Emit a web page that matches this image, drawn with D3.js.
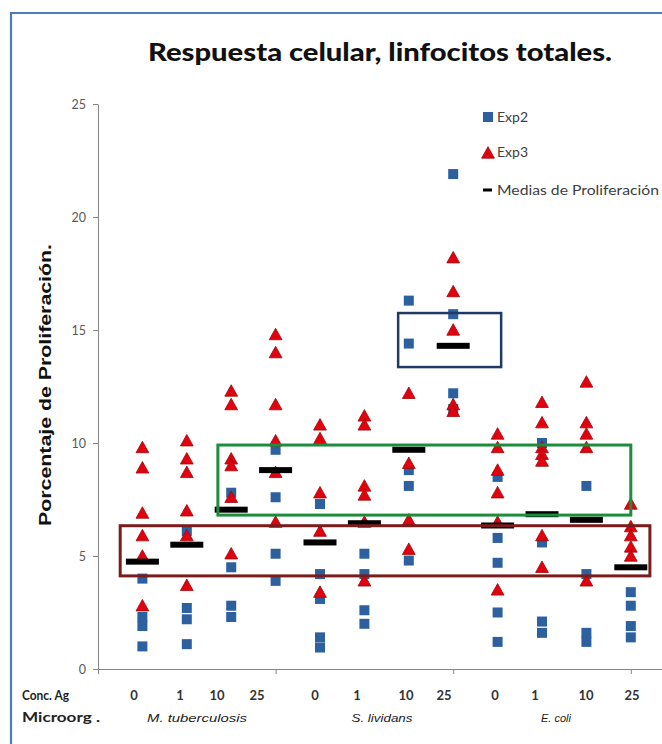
<!DOCTYPE html>
<html>
<head>
<meta charset="utf-8">
<script src="https://cdn.jsdelivr.net/npm/d3@7/dist/d3.min.js"></script>
<style>
  html, body { margin: 0; padding: 0; background: #fff; }
  svg { display: block; }
</style>
</head>
<body>
<svg id="chart" width="662" height="744"></svg>
<script>
// Concentration of antigen for each column, and the microorganism groups
const concLabels = ["0", "1", "10", "25", "0", "1", "10", "25", "0", "1", "10", "25"];
const organisms = ["M. tuberculosis", "S. lividans", "E. coli"];

// Exp2 values (squares), one list per column
const exp2 = [
  [4.0, 2.3, 1.9, 1.0],
  [6.1, 2.7, 2.2, 1.1],
  [7.8, 4.5, 2.8, 2.3],
  [9.7, 7.6, 5.1, 3.9],
  [7.3, 4.2, 3.1, 1.4, 0.95],
  [5.1, 4.2, 2.6, 2.0],
  [16.3, 14.4, 8.8, 8.1, 4.8],
  [21.9, 15.7, 12.2, 11.5],
  [8.5, 5.8, 4.7, 2.5, 1.2],
  [10.0, 5.6, 2.1, 1.6],
  [8.1, 4.2, 1.6, 1.2],
  [3.4, 2.8, 1.9, 1.4]
];

// Exp3 values (triangles)
const exp3 = [
  [9.8, 8.9, 6.9, 5.9, 5.0, 2.8],
  [10.1, 9.3, 8.7, 7.0, 5.9, 3.7],
  [12.3, 11.7, 9.3, 9.0, 7.6, 5.1],
  [14.8, 14.0, 11.7, 10.1, 8.7, 6.5],
  [10.8, 10.2, 7.8, 6.1, 3.4],
  [11.2, 10.8, 8.1, 7.7, 6.5, 3.9],
  [12.2, 9.1, 6.6, 5.3],
  [18.2, 16.7, 15.0, 11.7, 11.4],
  [10.4, 9.8, 8.8, 7.8, 6.5, 3.5],
  [11.8, 10.9, 9.8, 9.5, 9.2, 5.9, 4.5],
  [12.7, 10.9, 10.4, 9.8, 3.9],
  [7.3, 6.3, 5.9, 5.4, 5.0]
];

// Proliferation means per column
const means = [4.75, 5.5, 7.05, 8.8, 5.6, 6.45, 9.7, 14.3, 6.35, 6.85, 6.6, 4.5];

// Highlight boxes in data units: [x0, x1, yTop, yBottom]
const boxRed = [0.5, 12.43, 6.34, 4.12];
const boxGreen = [2.7, 12.0, 9.91, 6.81];
const boxBlue = [6.76, 9.08, 15.75, 13.36];

const yTicks = [0, 5, 10, 15, 20, 25];
const xTicks = [0, 4, 8, 12];

const svg = d3.select("#chart");
svg.append("rect").attr("width", 662).attr("height", 744).attr("fill", "#fff");

// chart frame (left and top edges visible)
svg.append("path")
  .attr("d", "M11,744 L11,13 L662,13")
  .attr("fill", "none").attr("stroke", "#4a7ebb").attr("stroke-width", 2.2);

const x = d3.scaleLinear().domain([0, 13]).range([98, 98 + 13 * 44.4]);
const y = d3.scaleLinear().domain([0, 25]).range([669, 104]);

// title
svg.append("text")
  .attr("x", 380).attr("y", 61)
  .attr("text-anchor", "middle")
  .attr("font-family", "Lato, 'Open Sans', sans-serif")
  .attr("font-weight", "900").attr("font-size", 25)
  .attr("textLength", 464).attr("lengthAdjust", "spacingAndGlyphs")
  .attr("fill", "#111")
  .text("Respuesta celular, linfocitos totales.");

// y axis
const yAxis = svg.append("g")
  .attr("transform", `translate(${x(0)},0)`)
  .call(d3.axisLeft(y).tickValues(yTicks).tickSize(5).tickPadding(7).tickSizeOuter(0));
yAxis.select(".domain").attr("stroke", "#868686");
yAxis.selectAll(".tick line").attr("stroke", "#868686");
yAxis.selectAll(".tick text")
  .attr("font-family", "Lato, 'Open Sans', sans-serif")
  .attr("font-size", 12.5).attr("fill", "#595959");

// x axis
const xAxis = svg.append("g")
  .attr("transform", `translate(0,${y(0)})`)
  .call(d3.axisBottom(x).tickValues(xTicks).tickSize(5).tickSizeOuter(0).tickFormat(""));
xAxis.select(".domain").attr("stroke", "#868686");
xAxis.selectAll(".tick line").attr("stroke", "#868686");

// y axis title
svg.append("text")
  .attr("transform", "translate(51,385) rotate(-90)")
  .attr("text-anchor", "middle")
  .attr("font-family", "'Liberation Sans', Arial, sans-serif")
  .attr("font-weight", "bold").attr("font-size", 17)
  .attr("textLength", 282).attr("lengthAdjust", "spacingAndGlyphs")
  .attr("fill", "#111")
  .text("Porcentaje de Proliferación.");

const plot = svg.append("g");

// Exp2 squares
const sq = 10;
exp2.forEach((vals, i) => {
  plot.selectAll(null).data(vals).enter().append("rect")
    .attr("x", x(i + 1) - sq / 2)
    .attr("y", d => y(d) - sq / 2)
    .attr("width", sq).attr("height", sq)
    .attr("fill", "#2d609f");
});

// Exp3 triangles
const tri = "M0,-6.3 L6.4,5.2 L-6.4,5.2 Z";
exp3.forEach((vals, i) => {
  plot.selectAll(null).data(vals).enter().append("path")
    .attr("d", tri)
    .attr("transform", d => `translate(${x(i + 1)},${y(d)})`)
    .attr("fill", "#e3000f").attr("stroke", "#9a0a0a").attr("stroke-width", 0.8);
});

// Means as dash markers
plot.selectAll(".mean").data(means).enter().append("rect")
  .attr("class", "mean")
  .attr("x", (d, i) => x(i + 1) - 16.5)
  .attr("y", d => y(d) - 3)
  .attr("width", 33).attr("height", 6)
  .attr("fill", "#000");

// highlight boxes
function box(b, color, w) {
  svg.append("rect")
    .attr("x", x(b[0])).attr("y", y(b[2]))
    .attr("width", x(b[1]) - x(b[0]))
    .attr("height", y(b[3]) - y(b[2]))
    .attr("fill", "none").attr("stroke", color).attr("stroke-width", w);
}
box(boxRed, "#7a1c1c", 3);
box(boxGreen, "#1e8c3c", 3);
box(boxBlue, "#1f3a66", 2.5);

// legend
const lg = svg.append("g").attr("font-family", "Lato, 'Open Sans', sans-serif")
  .attr("font-size", 14).attr("fill", "#404040");
lg.append("rect").attr("x", 483).attr("y", 112).attr("width", 10).attr("height", 10).attr("fill", "#2d609f");
lg.append("text").attr("x", 497).attr("y", 121.5).text("Exp2");
lg.append("path").attr("d", tri).attr("transform", "translate(488,153)")
  .attr("fill", "#e3000f").attr("stroke", "#9a0a0a").attr("stroke-width", 0.8);
lg.append("text").attr("x", 497).attr("y", 157).text("Exp3");
lg.append("rect").attr("x", 483).attr("y", 188.5).attr("width", 9).attr("height", 3).attr("fill", "#000");
lg.append("text").attr("x", 497).attr("y", 194.5)
  .attr("textLength", 162).attr("lengthAdjust", "spacingAndGlyphs")
  .text("Medias de Proliferación");

// category rows under the axis
const cat = svg.append("g").attr("font-family", "Lato, 'Open Sans', sans-serif")
  .attr("font-weight", "bold").attr("fill", "#222");
cat.append("text").attr("x", 22).attr("y", 700).attr("font-size", 13.5)
  .attr("textLength", 47).attr("lengthAdjust", "spacingAndGlyphs").text("Conc. Ag");
cat.append("text").attr("x", 22).attr("y", 722).attr("font-size", 13.5)
  .attr("textLength", 78).attr("lengthAdjust", "spacingAndGlyphs").text("Microorg .");

const concX = [134, 180, 217, 257, 315, 357, 406, 444, 495, 535, 586, 632];
cat.selectAll(".conc").data(concLabels).enter().append("text")
  .attr("class", "conc")
  .attr("x", (d, i) => concX[i]).attr("y", 700)
  .attr("text-anchor", "middle").attr("font-size", 13).attr("fill", "#333")
  .text(d => d);

const orgX = [197, 382, 556];
const orgW = [100, 61, 30];
svg.selectAll(".org").data(organisms).enter().append("text")
  .attr("class", "org")
  .attr("x", (d, i) => orgX[i] - orgW[i] / 2).attr("y", 722)
  .attr("font-family", "'Liberation Sans', Arial, sans-serif")
  .attr("font-style", "italic").attr("font-size", 11).attr("fill", "#222")
  .attr("textLength", (d, i) => orgW[i]).attr("lengthAdjust", "spacingAndGlyphs")
  .text(d => d);
</script>
</body>
</html>
